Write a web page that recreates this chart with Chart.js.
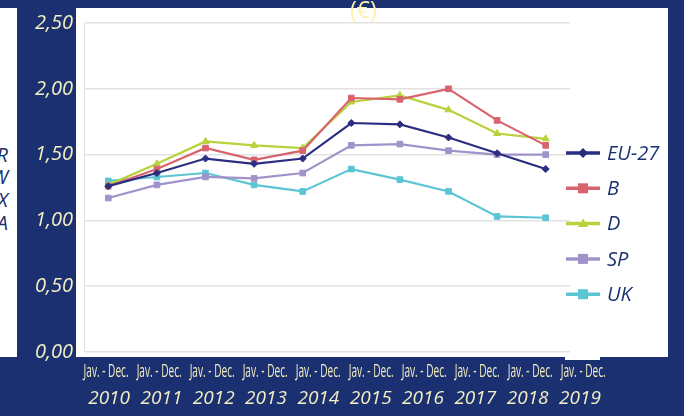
<!DOCTYPE html>
<html>
<head>
<meta charset="utf-8">
<script src="https://cdn.jsdelivr.net/npm/chart.js@4.4.1/dist/chart.umd.min.js"></script>
<style>
  html, body { margin: 0; padding: 0; background: #1b3070; width: 684px; height: 416px; overflow: hidden; }
  #wrap { position: relative; width: 684px; height: 416px; }
  canvas { position: absolute; left: 0; top: 0; }
  #side { position: absolute; left: 0; top: 8px; width: 17px; height: 349px; background: #fff; overflow: hidden; }
  #side div { position: absolute; right: 9px; font: italic 20px "Open Sans", sans-serif; color: #1b3070; line-height: 22px; }
  #unit { position: absolute; left: 350px; top: -7px; font: 23px "Open Sans", sans-serif; color: #fdf2b0; }
</style>
</head>
<body>
<div id="wrap">
  <canvas id="chart" width="684" height="416"></canvas>
  <div id="side">
    <div style="top:136px">R</div>
    <div style="top:158px">W</div>
    <div style="top:181px">X</div>
    <div style="top:204px">A</div>
  </div>
  <div id="unit">(€)</div>
</div>
<script>
// années (Jav. - Dec.)
const years = ['2010', '2011', '2012', '2013', '2014', '2015', '2016', '2017', '2018', '2019'];
const periodLabel = 'Jav. - Dec.';
const yTicks = [0, 0.5, 1, 1.5, 2, 2.5];

const eu27 = [1.26, 1.36, 1.47, 1.43, 1.47, 1.74, 1.73, 1.63, 1.51, 1.39];
const belgium = [1.26, 1.39, 1.55, 1.46, 1.53, 1.93, 1.92, 2.00, 1.76, 1.57];
const germany = [1.27, 1.43, 1.60, 1.57, 1.55, 1.90, 1.95, 1.84, 1.66, 1.62];
const spain = [1.17, 1.27, 1.33, 1.32, 1.36, 1.57, 1.58, 1.53, 1.50, 1.50];
const uk = [1.30, 1.33, 1.36, 1.27, 1.22, 1.39, 1.31, 1.22, 1.03, 1.02];

const navy = '#1b3070';
const cream = '#f4efc2';

function serie(label, data, color, style, radius) {
    return {
        label: label,
        data: data,
        xAxisID: 'x',
        borderColor: color,
        backgroundColor: color,
        borderWidth: 2.2,
        pointStyle: style,
        pointRadius: radius,
        pointBorderWidth: 1,
        tension: 0
    };
}

// fond blanc de la zone du graphe
const whiteBox = {
    id: 'whiteBox',
    beforeDraw(chart) {
        const c = chart.ctx;
        c.save();
        c.fillStyle = '#fff';
        c.fillRect(76, 8, 592, 349);
        c.fillRect(565, 355, 35, 5);
        c.restore();
    }
};

// ligne "Jav. - Dec." au-dessus des années + légende manuelle
const extras = {
    id: 'extras',
    afterDraw(chart) {
        const c = chart.ctx;
        const lab = chart.scales.labels;
        const area = chart.chartArea;
        c.save();
        c.fillStyle = cream;
        c.font = '19px "Open Sans", sans-serif';
        c.textAlign = 'center';
        c.textBaseline = 'middle';
        const w = c.measureText(periodLabel).width;
        const sx = 45 / w;
        years.forEach((y, i) => {
            const x = lab.getPixelForValue(i);
            c.save();
            c.translate(x - 3 + i * 0.7, area.bottom + 20);
            c.scale(sx, 1);
            c.fillText(periodLabel, 0, 0);
            c.restore();
        });

        // légende
        chart.data.datasets.forEach((ds, i) => {
            const y = 153 + i * 35.3;
            const x0 = area.right - 4;
            c.strokeStyle = ds.borderColor;
            c.lineWidth = 3.5;
            c.beginPath();
            c.moveTo(x0, y);
            c.lineTo(x0 + 34, y);
            c.stroke();
            c.fillStyle = ds.borderColor;
            const mx = x0 + 17;
            const r = 5;
            c.beginPath();
            if (ds.pointStyle === 'rectRot') {
                c.moveTo(mx, y - r); c.lineTo(mx + r, y); c.lineTo(mx, y + r); c.lineTo(mx - r, y);
            } else if (ds.pointStyle === 'triangle') {
                c.moveTo(mx, y - r); c.lineTo(mx + r, y + r * 0.7); c.lineTo(mx - r, y + r * 0.7);
            } else {
                c.rect(mx - r, y - r, 2 * r, 2 * r);
            }
            c.closePath();
            c.fill();
            c.fillStyle = navy;
            c.font = 'italic 20px "Open Sans", sans-serif';
            c.textAlign = 'left';
            c.fillText(ds.label, x0 + 41, y + 1);
        });
        c.restore();
    }
};

new Chart(document.getElementById('chart'), {
    type: 'line',
    data: {
        labels: years,
        datasets: [
            serie('EU-27', eu27, '#2b2e80', 'rectRot', 3.5),
            serie('B', belgium, '#d8636f', 'rect', 4),
            serie('D', germany, '#b7d23a', 'triangle', 4),
            serie('SP', spain, '#a193c9', 'rect', 4),
            serie('UK', uk, '#5cc5d3', 'rect', 4)
        ]
    },
    options: {
        responsive: false,
        animation: false,
        layout: { padding: { top: 20, right: 114, bottom: 0, left: 0 } },
        plugins: {
            legend: { display: false },
            tooltip: { enabled: false }
        },
        scales: {
            x: {
                type: 'category',
                offset: true,
                display: false
            },
            // axe des étiquettes : les années sont plus espacées que les points
            labels: {
                type: 'linear',
                position: 'bottom',
                min: -0.48,
                max: 8.81,
                afterBuildTicks(scale) { scale.ticks = years.map((_, i) => ({ value: i })); },
                grid: { display: false, drawTicks: false },
                border: { display: false },
                ticks: {
                    color: cream,
                    font: { family: 'Open Sans', size: 19, style: 'italic' },
                    padding: 35,
                    maxRotation: 0,
                    autoSkip: false,
                    callback: v => years[v]
                },
                afterFit(scale) { scale.height = 64; }
            },
            y: {
                min: 0,
                max: 2.5,
                afterBuildTicks(scale) { scale.ticks = yTicks.map(v => ({ value: v })); },
                grid: { color: '#e2e2e2', lineWidth: 1.5, drawTicks: false },
                border: { display: true, color: '#e2e2e2' },
                ticks: {
                    color: cream,
                    font: { family: 'Open Sans', size: 20, style: 'italic' },
                    padding: 11,
                    callback: v => v.toFixed(2).replace('.', ',')
                },
                afterFit(scale) { scale.width = 84; }
            }
        }
    },
    plugins: [whiteBox, extras]
});
</script>
</body>
</html>
